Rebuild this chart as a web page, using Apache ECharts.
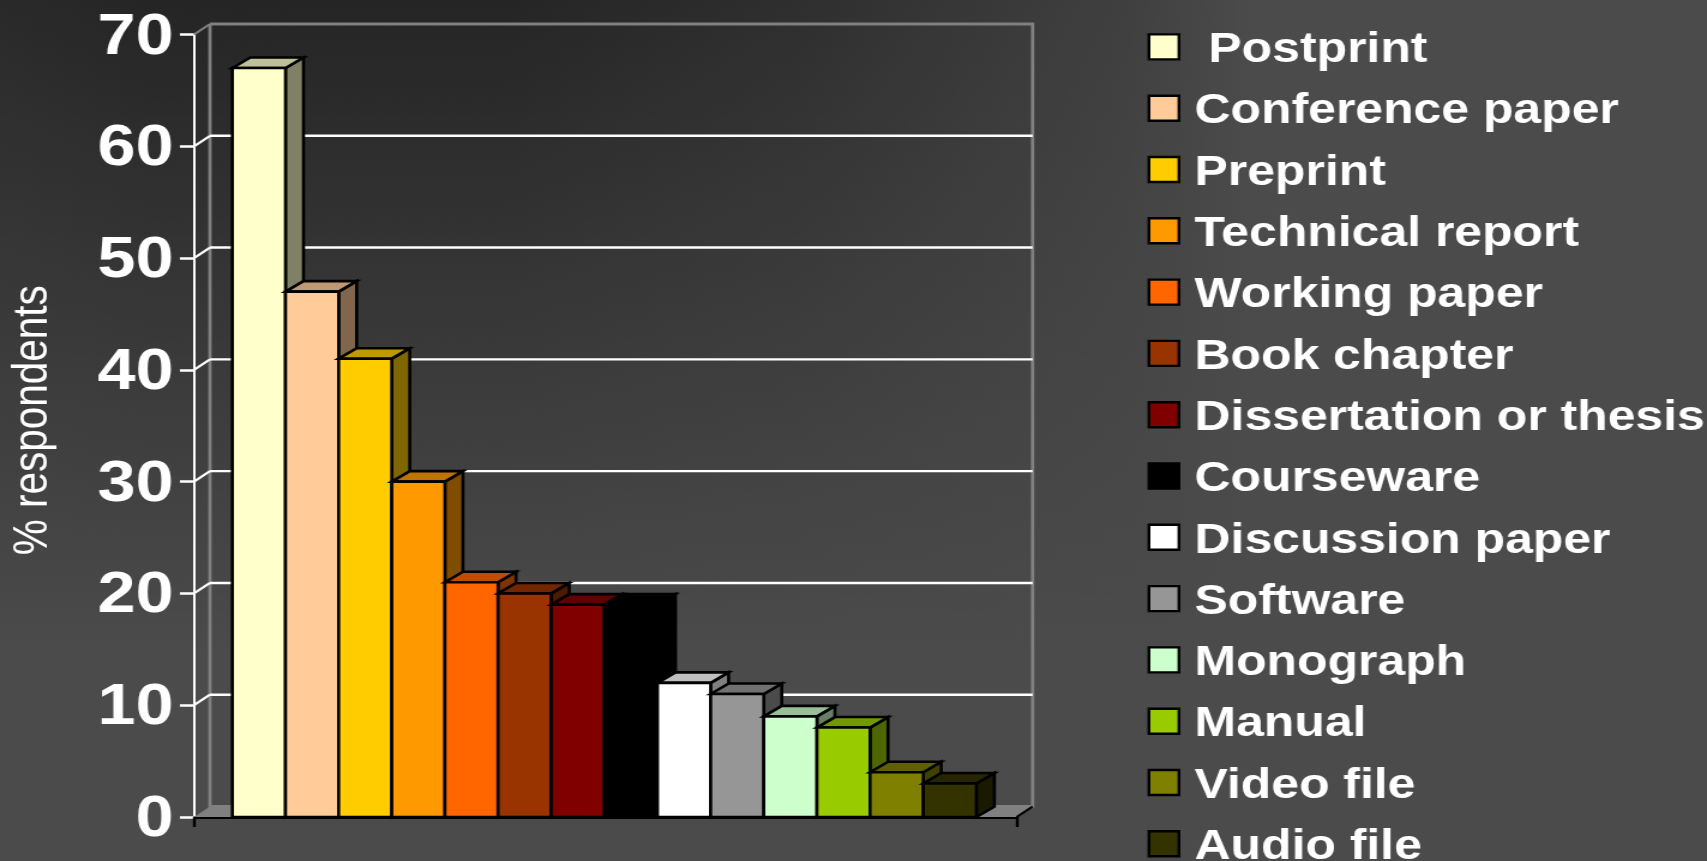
<!DOCTYPE html>
<html>
<head>
<meta charset="utf-8">
<style>html,body{margin:0;padding:0;background:#4b4b4b;overflow:hidden}#c{width:1423px;height:861px;transform:scaleX(1.19958);transform-origin:0 0}</style>
<script src="https://cdn.jsdelivr.net/npm/echarts@6/dist/echarts.min.js"></script>
</head>
<body>
<div id="c"></div>
<script>
const categoryLabels = [''];
const seriesNames = [' Postprint','Conference paper','Preprint','Technical report','Working paper','Book chapter','Dissertation or thesis','Courseware','Discussion paper','Software','Monograph','Manual','Video file','Audio file'];
const seriesValues = [67,47,41,30,21,20,19,19,12,11,9,8,4,3];
const seriesColors = ['#FFFFCC','#FFCC99','#FFCC00','#FF9900','#FF6600','#993300','#800000','#000000','#FFFFFF','#969696','#CCFFCC','#99CC00','#808000','#333300'];
const yTicks = [0,10,20,30,40,50,60,70];

const DX = 13.3, DY = 10.5, BDX = 15, BDY = 10.5, BAR_SHARE = 0.0646;
function shade(hex, k){
  const n = parseInt(hex.slice(1),16);
  const c = s => Math.round(((n>>s)&255)*k);
  return 'rgb('+c(16)+','+c(8)+','+c(0)+')';
}
function barItem(i){
  return function(params, api){
    const base = api.coord([0,0]);
    const top = api.coord([0,api.value(1)]);
    const w = api.size([1,0])[0]*BAR_SHARE;
    const cx = base[0] + (i-(seriesValues.length-1)/2)*w - 0.8;
    const l = cx-w/2, r = cx+w/2, t = top[1], b = base[1];
    const c = seriesColors[i];
    const st = f => ({fill:f, stroke:'#000', lineWidth:2.6, lineJoin:'miter'});
    return {type:'group',children:[
      {type:'polygon',shape:{points:[[r,b],[r+BDX,b-BDY],[r+BDX,t-BDY],[r,t]]},style:st(shade(c,0.5))},
      {type:'polygon',shape:{points:[[l,t],[l+BDX,t-BDY],[r+BDX,t-BDY],[r,t]]},style:st(shade(c,0.75))},
      {type:'polygon',shape:{points:[[l,t],[r,t],[r,b],[l,b]]},style:st(c)}
    ]};
  };
}
function frameItem(params, api){
  const v = api.value(0);
  const cs = params.coordSys;
  const p = api.coord([0,v]);
  const x0 = cs.x, x1 = cs.x+cs.width;
  const y = p[1];
  const kids = [];
  const grey = '#808080';
  if(v===0){
    kids.push({type:'polygon',shape:{points:[[x0,y],[x0+DX,y-DY],[x1+DX,y-DY],[x1,y]]},style:{fill:grey,stroke:null}});
    kids.push({type:'polyline',shape:{points:[[x0+DX,cs.y-DY],[x0+DX,y-DY],[x1+DX,y-DY],[x1+DX,cs.y-DY],[x0+DX,cs.y-DY]]},style:{fill:null,stroke:grey,lineWidth:2.8}});
    kids.push({type:'line',shape:{x1:x0,y1:cs.y,x2:x0+DX,y2:cs.y-DY},style:{stroke:grey,lineWidth:2.2}});
    kids.push({type:'line',shape:{x1:x1,y1:y,x2:x1+DX,y2:y-DY},style:{stroke:'#000',lineWidth:2.2}});
  } else if(v<yTicks[yTicks.length-1]){
    kids.push({type:'line',shape:{x1:x0,y1:y,x2:x0+DX,y2:y-DY},style:{stroke:'#fff',lineWidth:2.2}});
    kids.push({type:'line',shape:{x1:x0+DX,y1:y-DY,x2:x1+DX,y2:y-DY},style:{stroke:'#fff',lineWidth:2.4}});
  }
  return {type:'group',children:kids};
}

const series = [{
  type:'custom',name:'frame',renderItem:frameItem,silent:true,clip:false,
  coordinateSystem:'cartesian2d',encode:{x:1,y:0},data:yTicks.map(v=>[v,0]),z:1
}].concat(seriesNames.map((name,i)=>({
  type:'custom',name:name,renderItem:barItem(i),clip:false,z:2,
  itemStyle:{color:seriesColors[i]},encode:{x:0,y:1},
  data:[[0,seriesValues[i]]]
})));

const chart = echarts.init(document.getElementById('c'),null,{renderer:'canvas'});
chart.setOption({
  animation:false,
  backgroundColor:{type:'linear',x:0,y:0,x2:0,y2:1,colorStops:[{offset:0,color:'#252525'},{offset:0.755,color:'#4b4b4b'},{offset:1,color:'#4b4b4b'}]},
  graphic:[{type:'rect',z:-10,silent:true,shape:{x:0,y:0,width:1423,height:861},
    style:{fill:{type:'linear',x:0,y:0,x2:1,y2:0,colorStops:[
      {offset:0,color:'rgba(75,75,75,0.13)'},{offset:0.088,color:'rgba(75,75,75,0)'},
      {offset:0.293,color:'rgba(75,75,75,0)'},{offset:0.469,color:'rgba(75,75,75,0.26)'},
      {offset:0.662,color:'rgba(75,75,75,0.71)'},{offset:0.732,color:'rgba(75,75,75,1)'},
      {offset:1,color:'rgba(75,75,75,1)'}]}}}],
  grid:{left:161.7,top:34.5,width:685.8,height:782.5,outerBoundsMode:'none'},
  xAxis:{type:'category',data:categoryLabels,
    axisLine:{onZero:false,lineStyle:{color:'#000',width:3}},
    axisTick:{show:true,length:10,lineStyle:{color:'#000',width:2.4}},
    axisLabel:{show:false},splitLine:{show:false}},
  yAxis:{type:'value',min:0,max:70,interval:10,
    name:'% respondents',nameLocation:'middle',nameRotate:90,nameGap:113,
    nameTextStyle:{color:'#fff',fontFamily:'Liberation Sans',fontSize:40.5,fontWeight:'normal',padding:[0,0,0,11]},
    axisLine:{show:true,lineStyle:{color:'#fff',width:2}},
    axisTick:{show:true,length:11.7,lineStyle:{color:'#fff',width:2.5}},
    axisLabel:{margin:17,formatter:'{a|{value}}',
      rich:{a:{color:'#fff',fontFamily:'Liberation Sans',fontWeight:'bold',fontSize:57,padding:[6.6,0,0,0]}}},
    splitLine:{show:false}},
  legend:{orient:'vertical',left:951.6,top:24.7,height:2000,itemWidth:25,itemHeight:25,itemGap:19.3,icon:'rect',
    data:seriesNames,selectedMode:false,formatter:'{a|{name}}',
    itemStyle:{borderColor:'#000',borderWidth:2.4},
    textStyle:{rich:{a:{color:'#fff',fontFamily:'Liberation Sans',fontWeight:'bold',fontSize:41.6,padding:[7.6,0,0,8]}}}},
  tooltip:{show:false},
  series:series
});
</script>
</body>
</html>
